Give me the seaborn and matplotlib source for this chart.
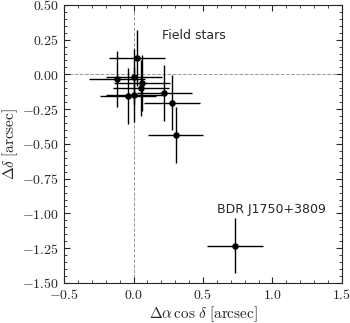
import numpy as np
import pandas as pd
import matplotlib
matplotlib.use("Agg")
import matplotlib.pyplot as plt
import seaborn as sns
from matplotlib.ticker import MultipleLocator, FormatStrFormatter

# Field star offsets (arcsec)
field_dra = [0.023, -0.117, 0.004, 0.059, 0.052, -0.040, 0.004, 0.222, 0.277, 0.303]
field_ddec = [0.117, -0.035, -0.018, -0.063, -0.097, -0.155, -0.145, -0.133, -0.203, -0.437]
field_xerr = [0.20, 0.20, 0.20, 0.20, 0.20, 0.20, 0.20, 0.20, 0.20, 0.20]
field_yerr = [0.20, 0.20, 0.20, 0.20, 0.20, 0.20, 0.20, 0.20, 0.20, 0.20]

# Target
bdr_dra = [0.730]
bdr_ddec = [-1.232]
bdr_xerr = [0.20]
bdr_yerr = [0.20]

df = pd.DataFrame({'dra': field_dra + bdr_dra, 'ddec': field_ddec + bdr_ddec})
xerr = np.array(field_xerr + bdr_xerr)
yerr = np.array(field_yerr + bdr_yerr)

sns.set_style("ticks")
plt.rcParams['mathtext.fontset'] = 'cm'
plt.rcParams['font.family'] = ['DejaVu Sans']

fig = plt.figure(figsize=(3.5, 3.23), dpi=100)
ax = fig.add_axes([0.183, 0.124, 0.794, 0.861])

ax.axhline(0, color='0.6', ls='--', lw=0.7, zorder=0)
ax.axvline(0, color='0.6', ls='--', lw=0.7, zorder=0)

ax.errorbar(df['dra'], df['ddec'], xerr=xerr, yerr=yerr, fmt='none',
            ecolor='black', elinewidth=1.0, capsize=0, zorder=2)
sns.scatterplot(data=df, x='dra', y='ddec', color='black', s=22,
                edgecolor='black', linewidth=0, ax=ax, zorder=3)

ax.text(0.205, 0.28, 'Field stars', fontsize=9, va='center', ha='left')
ax.text(0.60, -0.97, 'BDR J1750+3809', fontsize=9, va='center', ha='left')

ax.set_xlim(-0.5, 1.5)
ax.set_ylim(-1.5, 0.5)
ax.xaxis.set_major_locator(MultipleLocator(0.5))
ax.xaxis.set_minor_locator(MultipleLocator(0.1))
ax.yaxis.set_major_locator(MultipleLocator(0.25))
ax.yaxis.set_minor_locator(MultipleLocator(0.05))
ax.xaxis.set_major_formatter(FormatStrFormatter(r'$%.1f$'))
ax.yaxis.set_major_formatter(FormatStrFormatter(r'$%.2f$'))
ax.tick_params(which='both', direction='in', top=True, right=True, labelsize=10)
ax.tick_params(which='major', length=4, width=0.8)
ax.tick_params(which='minor', length=2, width=0.6)
for sp in ax.spines.values():
    sp.set_linewidth(0.8)

ax.set_xlabel(r'$\Delta\alpha\,\cos\,\delta\;[\mathrm{arcsec}]$', fontsize=11, labelpad=2)
ax.set_ylabel(r'$\Delta\delta\;[\mathrm{arcsec}]$', fontsize=11, labelpad=2)

fig.savefig('out.png', dpi=100)
